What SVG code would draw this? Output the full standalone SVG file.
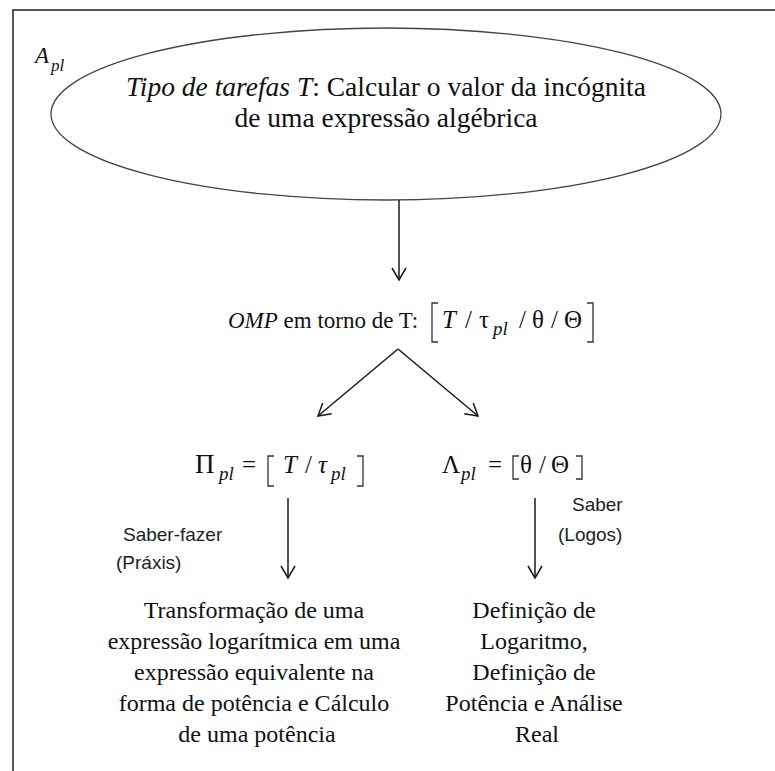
<svg xmlns="http://www.w3.org/2000/svg" width="775" height="771" viewBox="0 0 775 771">
<defs>
<marker id="ah" markerUnits="userSpaceOnUse" markerWidth="16" markerHeight="16" viewBox="-14 -8 16 16" refX="0" refY="0" orient="auto">
<path d="M-12,-7 L0,0 L-12,7" fill="none" stroke="#1a1a1a" stroke-width="1.5"/>
</marker>
<style>
.s{font-family:"Liberation Serif","Times New Roman",serif;fill:#111;}
.a{font-family:"Liberation Sans",Arial,sans-serif;fill:#222;font-size:19px;}
.i{font-style:italic;}
.ln{stroke:#1a1a1a;stroke-width:1.5;fill:none;}
.br{stroke:#333;stroke-width:1.3;fill:none;}
</style>
</defs>
<rect width="775" height="771" fill="#fff"/>
<path d="M13,771 L13,10 L775,10" fill="none" stroke="#222" stroke-width="1.5"/>

<g id="apl">
<text class="s i" x="35" y="63" font-size="23">A<tspan x="51" font-size="17" dy="8">pl</tspan></text>
</g>

<g id="task">
<ellipse cx="386" cy="114" rx="335" ry="86" fill="none" stroke="#444" stroke-width="1.3"/>
<text class="s" x="386" y="96" font-size="27.5" text-anchor="middle"><tspan class="i">Tipo de tarefas T</tspan>: Calcular o valor da incógnita</text>
<text class="s" x="386" y="127" font-size="27.5" text-anchor="middle">de uma expressão algébrica</text>
</g>

<g id="omp">
<text class="s" x="228" y="328" font-size="23"><tspan class="i">OMP</tspan> em torno de T:</text>
<path class="br" d="M438,303 L432,303 L432,342 L438,342"/>
<text class="s" y="328" font-size="25"><tspan class="i" x="442">T</tspan><tspan x="465">/</tspan><tspan x="479">τ</tspan><tspan class="i" x="493" dy="7" font-size="19">pl</tspan><tspan x="519" dy="-7">/</tspan><tspan x="532">θ</tspan><tspan x="551">/</tspan><tspan x="564">Θ</tspan></text>
<path class="br" d="M587,303 L593,303 L593,342 L587,342"/>
</g>

<g id="pi">
<text class="s" y="473" font-size="25"><tspan x="195" font-size="27">Π</tspan><tspan class="i" x="219" dy="7" font-size="19">pl</tspan><tspan x="242" dy="-7">=</tspan><tspan class="i" x="283">T</tspan><tspan x="305">/</tspan><tspan class="i" x="318">τ</tspan><tspan class="i" x="331" dy="7" font-size="19">pl</tspan></text>
<path class="br" d="M274,456 L268,456 L268,486 L274,486"/>
<path class="br" d="M357,456 L363,456 L363,486 L357,486"/>
</g>

<g id="lambda">
<text class="s" y="473" font-size="25"><tspan x="442">Λ</tspan><tspan class="i" x="461" dy="7" font-size="19">pl</tspan><tspan x="488" dy="-7">=</tspan><tspan x="520">θ</tspan><tspan x="539">/</tspan><tspan x="551">Θ</tspan></text>
<path class="br" d="M519,456 L513,456 L513,479 L519,479"/>
<path class="br" d="M576,456 L582,456 L582,479 L576,479"/>
</g>

<g id="lbl-praxis">
<text class="a" x="123" y="541">Saber-fazer</text>
<text class="a" x="116" y="569">(Práxis)</text>
</g>

<g id="lbl-logos">
<text class="a" x="572" y="511">Saber</text>
<text class="a" x="558" y="541">(Logos)</text>
</g>

<g id="praxis">
<text class="s" font-size="24" text-anchor="middle">
<tspan x="257" y="618">Transformação de uma</tspan>
<tspan x="257" y="649">expressão logarítmica em uma</tspan>
<tspan x="257" y="680">expressão equivalente na</tspan>
<tspan x="257" y="711">forma de potência e Cálculo</tspan>
<tspan x="257" y="742">de uma potência</tspan>
</text>
</g>

<g id="logos">
<text class="s" font-size="24" text-anchor="middle">
<tspan x="537" y="618">Definição de</tspan>
<tspan x="537" y="649">Logaritmo,</tspan>
<tspan x="537" y="680">Definição de</tspan>
<tspan x="537" y="711">Potência e Análise</tspan>
<tspan x="537" y="742">Real</tspan>
</text>
</g>

<g id="connectors">
<line class="ln" x1="399" y1="200" x2="399" y2="280" marker-end="url(#ah)"/>
<line class="ln" x1="398" y1="349" x2="318" y2="416" marker-end="url(#ah)"/>
<line class="ln" x1="398" y1="349" x2="478" y2="416" marker-end="url(#ah)"/>
<line class="ln" x1="288" y1="498" x2="288" y2="578" marker-end="url(#ah)"/>
<line class="ln" x1="535" y1="498" x2="535" y2="578" marker-end="url(#ah)"/>
</g>
</svg>
